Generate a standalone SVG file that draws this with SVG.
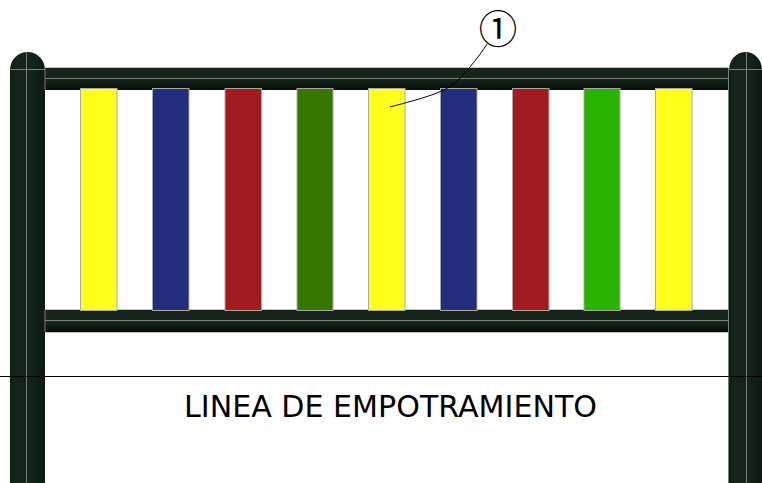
<svg xmlns="http://www.w3.org/2000/svg" width="762" height="483" viewBox="0 0 762 483">
<style>
.bar{stroke:#a9a9a2;stroke-width:1}
.seam{stroke:#7a7f77;stroke-width:1;fill:none}
.edge{stroke:#c4c4bf;stroke-width:1;fill:none}
.ink{stroke:#000;fill:none}
.cap{font-family:"DejaVu Sans",Verdana,sans-serif;fill:#000}
.num{font-family:"DejaVu Serif","Noto Sans CJK SC",serif;fill:#000}
</style>
<defs>
<linearGradient id="rail" x1="0" y1="0" x2="0" y2="1">
<stop offset="0" stop-color="#16241a"/><stop offset=".6" stop-color="#15231a"/><stop offset="1" stop-color="#050d07"/>
</linearGradient>
<linearGradient id="post" x1="0" y1="0" x2="1" y2="0">
<stop offset="0" stop-color="#0f1d13"/><stop offset=".15" stop-color="#15241a"/><stop offset=".6" stop-color="#15241a"/><stop offset="1" stop-color="#0b1a10"/>
</linearGradient>
</defs>
<rect width="762" height="483" fill="#fff"/>
<g id="rail-top">
<rect x="45" y="68" width="683" height="22" fill="url(#rail)"/>
<path class="edge" d="M45 67.500H728"/>
<path class="seam" d="M45 78.500H728"/>
</g>
<g id="rail-bottom">
<rect x="45" y="310" width="683" height="22" fill="url(#rail)"/>
<path class="edge" d="M45 309.500H728M45 332.500H728"/>
<path class="seam" d="M45 320.500H728"/>
</g>
<g id="slats">
<rect id="slat-1" class="bar" x="80.500" y="88.500" width="36.500" height="222" fill="#ffff1c"/>
<rect id="slat-2" class="bar" x="152.500" y="88.500" width="36.500" height="222" fill="#222d7f"/>
<rect id="slat-3" class="bar" x="225" y="88.500" width="36.500" height="222" fill="#a21b20"/>
<rect id="slat-4" class="bar" x="297" y="88.500" width="36" height="222" fill="#377600"/>
<rect id="slat-5" class="bar" x="368.500" y="88.500" width="36.500" height="222" fill="#ffff1c"/>
<rect id="slat-6" class="bar" x="440.500" y="88.500" width="36.500" height="222" fill="#222d7f"/>
<rect id="slat-7" class="bar" x="512.500" y="88.500" width="36.500" height="222" fill="#a21b20"/>
<rect id="slat-8" class="bar" x="584" y="88.500" width="36" height="222" fill="#29b400"/>
<rect id="slat-9" class="bar" x="655.500" y="88.500" width="36.500" height="222" fill="#ffff1c"/>
</g>
<g id="post-left">
<path d="M10 483V70A17.500 18 0 0 1 45 70V483Z" fill="url(#post)"/>
<path class="seam" d="M26.500 52V483M10 69.500H45"/>
<path class="seam" d="M45 68V90M45 310V332"/>
</g>
<g id="post-right">
<path d="M729 483V70A16.500 18 0 0 1 762 70V483Z" fill="url(#post)"/>
<path class="seam" d="M746.500 52V483M729 69.500H762M728.500 68V483"/>
</g>
<g id="connectors">
<path class="ink" d="M0 376.500H762" stroke-width="1"/>
<path class="ink" d="M390 107C420 99 448 92 458 80C470 68 480 55 487 44" stroke-width="1"/>
</g>
<g id="label-1">
<text class="num" x="498" y="43" font-size="38.500" text-anchor="middle">①</text>
</g>
<g id="caption">
<text class="cap" x="390.500" y="417" font-size="30.100" text-anchor="middle">LINEA DE EMPOTRAMIENTO</text>
</g>
</svg>
